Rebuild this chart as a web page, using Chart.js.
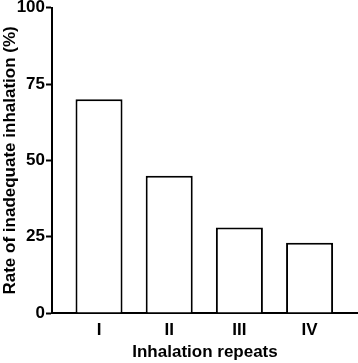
<!DOCTYPE html>
<html lang="en">
<head>
    <meta charset="UTF-8" />
    <title>Inhalation repeats</title>
    <script src="https://cdn.jsdelivr.net/npm/chart.js"></script>
    <style>
        html, body { margin: 0; padding: 0; background: #fff; }
        #wrap { position: relative; width: 358px; height: 363px; }
    </style>
</head>
<body>
    <div id="wrap"><canvas id="chart"></canvas></div>
    <script>
        const categories = ["I", "II", "III", "IV"];
        const rates = [70, 45, 28, 23];
        const yTicks = [0, 25, 50, 75, 100];

        const font = { family: "'Liberation Sans', Arial, sans-serif", weight: "bold" };

        const points = rates.map((v, i) => ({ x: i + 1, y: v }));

        new Chart(document.getElementById("chart"), {
            type: "bar",
            data: {
                datasets: [{
                    data: points,
                    backgroundColor: "#ffffff",
                    borderColor: "#000000",
                    borderWidth: 2,
                    barPercentage: 0.67,
                    categoryPercentage: 1,
                }],
            },
            options: {
                responsive: true,
                maintainAspectRatio: false,
                animation: false,
                layout: { padding: { top: 7, right: 0, left: 0, bottom: 0 } },
                plugins: { legend: { display: false }, tooltip: { enabled: false } },
                scales: {
                    x: {
                        type: "linear",
                        offset: false,
                        min: 0.33,
                        max: 4.69,
                        afterBuildTicks: (scale) => {
                            scale.ticks = categories.map((c, i) => ({ value: i + 1 }));
                        },
                        afterFit: (scale) => { scale.height = 50; },
                        border: { display: true, color: "#000", width: 2 },
                        grid: { display: false, drawTicks: false, offset: false },
                        ticks: {
                            color: "#000",
                            font: { ...font, size: 17 },
                            padding: 7,
                            callback: (v) => categories[v - 1] || "",
                        },
                        title: {
                            display: true,
                            text: "Inhalation repeats",
                            color: "#000",
                            font: { ...font, size: 17 },
                            padding: { top: 1, bottom: 0 },
                        },
                    },
                    y: {
                        min: 0,
                        max: 100,
                        afterBuildTicks: (scale) => {
                            scale.ticks = yTicks.map(v => ({ value: v }));
                        },
                        afterFit: (scale) => { scale.width = 52; },
                        border: { display: true, color: "#000", width: 2 },
                        grid: {
                            drawOnChartArea: false,
                            drawTicks: true,
                            tickLength: 6,
                            tickWidth: 2,
                            tickColor: "#000",
                        },
                        ticks: {
                            color: "#000",
                            font: { ...font, size: 17, lineHeight: 0.8 },
                            padding: 1,
                        },
                        title: {
                            display: true,
                            text: "Rate of inadequate inhalation (%)",
                            color: "#000",
                            font: { ...font, size: 17 },
                            padding: { top: 0, bottom: 0 },
                        },
                    },
                },
            },
        });
    </script>
</body>
</html>
